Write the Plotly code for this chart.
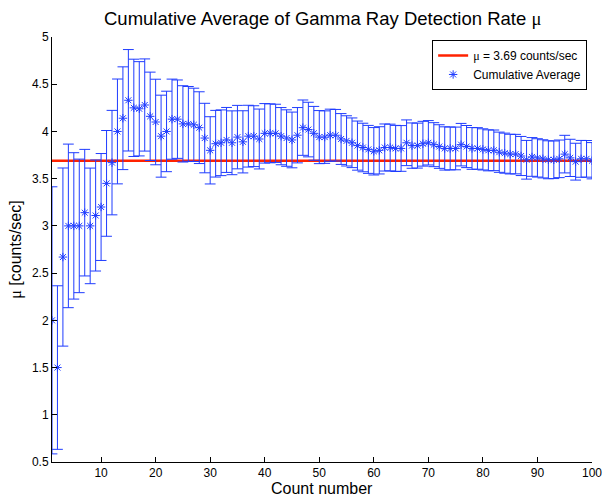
import plotly.graph_objects as go

count_number = list(range(1, 101))

cumulative_average = [
    2.00, 1.50, 2.67, 3.00, 3.00, 3.00, 3.14, 3.00, 3.11, 3.20,
    3.45, 3.67, 4.00, 4.14, 4.33, 4.25, 4.24, 4.28, 4.16, 4.10,
    3.95, 4.00, 4.13, 4.13, 4.08, 4.08, 4.07, 4.04, 3.93, 3.80,
    3.87, 3.88, 3.91, 3.88, 3.94, 3.89, 3.95, 3.95, 3.92, 3.98,
    3.98, 3.98, 3.95, 3.93, 3.91, 3.96, 4.04, 4.02, 3.98, 3.94,
    3.94, 3.96, 3.96, 3.92, 3.90, 3.88, 3.85, 3.83, 3.81, 3.79,
    3.80, 3.83, 3.83, 3.82, 3.82, 3.88, 3.85, 3.85, 3.87, 3.88,
    3.86, 3.84, 3.82, 3.82, 3.82, 3.86, 3.84, 3.82, 3.82, 3.81,
    3.80, 3.80, 3.78, 3.77, 3.76, 3.76, 3.74, 3.70, 3.73, 3.72,
    3.71, 3.70, 3.70, 3.71, 3.76, 3.72, 3.68, 3.71, 3.71, 3.69,
]

error_bar = [
    1.414, 0.866, 0.943, 0.866, 0.775, 0.707, 0.670, 0.612, 0.588, 0.566,
    0.560, 0.553, 0.555, 0.544, 0.537, 0.515, 0.499, 0.488, 0.468, 0.453,
    0.434, 0.426, 0.424, 0.415, 0.404, 0.396, 0.388, 0.380, 0.368, 0.356,
    0.353, 0.348, 0.344, 0.338, 0.336, 0.329, 0.327, 0.322, 0.317, 0.315,
    0.312, 0.308, 0.303, 0.299, 0.295, 0.293, 0.293, 0.289, 0.285, 0.281,
    0.278, 0.276, 0.273, 0.269, 0.266, 0.263, 0.260, 0.257, 0.254, 0.251,
    0.250, 0.249, 0.247, 0.244, 0.242, 0.242, 0.240, 0.238, 0.237, 0.235,
    0.233, 0.231, 0.229, 0.227, 0.226, 0.225, 0.223, 0.221, 0.220, 0.218,
    0.217, 0.215, 0.213, 0.212, 0.210, 0.209, 0.207, 0.205, 0.205, 0.203,
    0.202, 0.201, 0.199, 0.199, 0.199, 0.197, 0.195, 0.195, 0.194, 0.192,
]

mu_value = 3.69
x_range = [1, 100]
y_ticks = [0.5, 1, 1.5, 2, 2.5, 3, 3.5, 4, 4.5, 5]
y_tick_labels = ["0.5", "1", "1.5", "2", "2.5", "3", "3.5", "4", "4.5", "5"]
x_ticks = [10, 20, 30, 40, 50, 60, 70, 80, 90, 100]

BLUE = "#1f3cff"
RED = "#ff2200"
FONT = "Liberation Sans, Arial, sans-serif"
MU = "<span style='font-family:Liberation Serif'>μ</span>"

fig = go.Figure()

fig.add_trace(go.Scatter(
    x=x_range, y=[mu_value, mu_value], mode="lines",
    line=dict(color=RED, width=2.5),
    name=MU + " = 3.69 counts/sec",
))

fig.add_trace(go.Scatter(
    x=count_number, y=cumulative_average, mode="markers",
    marker=dict(symbol="asterisk-open", size=7, color=BLUE,
                line=dict(color=BLUE, width=1)),
    error_y=dict(type="data", array=error_bar, visible=True,
                 color=BLUE, thickness=1, width=5.4),
    name="Cumulative Average",
))

fig.update_layout(
    width=603, height=496,
    margin=dict(l=52, r=11, t=37, b=34, autoexpand=False),
    paper_bgcolor="white", plot_bgcolor="white",
    font=dict(family=FONT, size=12, color="black"),
    showlegend=True,
    legend=dict(
        x=0.991, y=0.993, xanchor="right", yanchor="top",
        bgcolor="white", bordercolor="black", borderwidth=1,
        font=dict(family=FONT, size=12, color="black"),
        tracegroupgap=0, itemwidth=30,
    ),
    xaxis=dict(
        range=x_range, tickmode="array", tickvals=x_ticks,
        ticks="inside", ticklen=5, tickcolor="black",
        showline=True, linecolor="black", linewidth=1,
        showgrid=False, zeroline=False, mirror=False, automargin=False,
        tickfont=dict(family=FONT, size=12),
    ),
    yaxis=dict(
        range=[0.5, 5], tickmode="array", tickvals=y_ticks,
        ticktext=y_tick_labels,
        ticks="inside", ticklen=5, tickcolor="black",
        showline=True, linecolor="black", linewidth=1,
        showgrid=False, zeroline=False, mirror=False, automargin=False,
        tickfont=dict(family=FONT, size=12),
        title=dict(text=MU + " [counts/sec]", standoff=6,
                   font=dict(family=FONT, size=16, color="black")),
    ),
    annotations=[
        dict(text="Cumulative Average of Gamma Ray Detection Rate " + MU,
             xref="paper", yref="paper", x=0.5, y=1, yshift=19,
             xanchor="center", yanchor="middle", showarrow=False,
             font=dict(family=FONT, size=18.5, color="black")),
        dict(text="Count number",
             xref="paper", yref="paper", x=0.5, y=0, yshift=-26,
             xanchor="center", yanchor="middle", showarrow=False,
             font=dict(family=FONT, size=16, color="black")),
    ],
)

fig.write_html("out.html")
